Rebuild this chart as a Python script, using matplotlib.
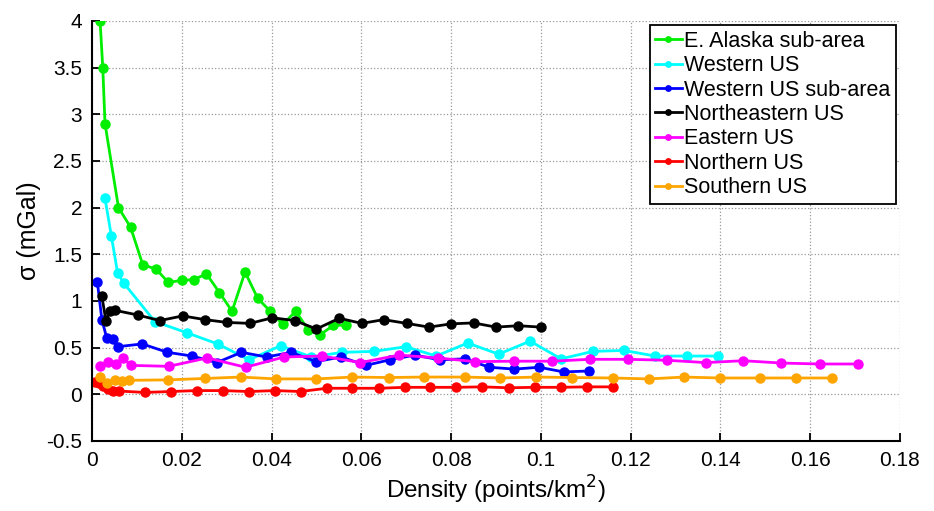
import numpy as np
import matplotlib
matplotlib.use('Agg')
import matplotlib.pyplot as plt

plt.rcParams['font.family'] = ['Liberation Sans', 'DejaVu Sans']

# E. Alaska sub-area
alaska_x = [0.0018, 0.0024, 0.0029, 0.0059, 0.0086, 0.0113, 0.0143, 0.0170, 0.0200, 0.0227,
            0.0255, 0.0284, 0.0312, 0.0341, 0.0369, 0.0397, 0.0425, 0.0454, 0.0482, 0.0509,
            0.0538, 0.0566]
alaska_y = [4.0, 3.5, 2.9, 2.0, 1.79, 1.39, 1.34, 1.2, 1.22, 1.23,
            1.29, 1.09, 0.89, 1.31, 1.03, 0.89, 0.75, 0.89, 0.69, 0.64,
            0.74, 0.74]

# Western US
west_x = [0.0029, 0.0043, 0.0057, 0.0071, 0.0140, 0.0211, 0.0280, 0.0350, 0.0420, 0.0489,
          0.0558, 0.0628, 0.0699, 0.0767, 0.0837, 0.0906, 0.0976, 0.1045, 0.1116, 0.1185,
          0.1255, 0.1326, 0.1395]
west_y = [2.10, 1.70, 1.30, 1.19, 0.78, 0.66, 0.54, 0.37, 0.52, 0.40,
          0.45, 0.46, 0.51, 0.41, 0.55, 0.43, 0.57, 0.38, 0.46, 0.47,
          0.41, 0.41, 0.41]

# Western US sub-area
wsub_x = [0.0012, 0.0022, 0.0033, 0.0046, 0.0057, 0.0112, 0.0168, 0.0223, 0.0278, 0.0333,
          0.0389, 0.0444, 0.0499, 0.0555, 0.0610, 0.0664, 0.0719, 0.0775, 0.0831, 0.0885,
          0.0941, 0.0996, 0.1051, 0.1107]
wsub_y = [1.20, 0.80, 0.60, 0.59, 0.51, 0.54, 0.45, 0.41, 0.34, 0.45,
          0.40, 0.45, 0.35, 0.40, 0.31, 0.37, 0.42, 0.37, 0.38, 0.29,
          0.27, 0.29, 0.24, 0.25]

# Northeastern US
ne_x = [0.0022, 0.0031, 0.0040, 0.0051, 0.0102, 0.0151, 0.0202, 0.0252, 0.0301, 0.0352,
        0.0402, 0.0452, 0.0500, 0.0551, 0.0601, 0.0650, 0.0701, 0.0751, 0.0800, 0.0850,
        0.0900, 0.0950, 0.1000]
ne_y = [1.05, 0.79, 0.89, 0.90, 0.85, 0.79, 0.84, 0.80, 0.77, 0.76,
        0.82, 0.79, 0.70, 0.815, 0.76, 0.80, 0.76, 0.72, 0.755, 0.765,
        0.72, 0.735, 0.72]

# Eastern US
east_x = [0.0018, 0.0036, 0.0053, 0.0070, 0.0086, 0.0171, 0.0257, 0.0342, 0.0428, 0.0513,
          0.0598, 0.0684, 0.0770, 0.0854, 0.0940, 0.1025, 0.1109, 0.1194, 0.1281, 0.1367,
          0.1451, 0.1536, 0.1621, 0.1707]
east_y = [0.30, 0.35, 0.33, 0.39, 0.31, 0.30, 0.39, 0.29, 0.40, 0.41,
          0.34, 0.42, 0.39, 0.35, 0.355, 0.355, 0.375, 0.375, 0.365, 0.34,
          0.36, 0.335, 0.325, 0.325]

# Northern US
north_x = [0.0007, 0.0015, 0.0025, 0.0036, 0.0047, 0.0060, 0.0118, 0.0175, 0.0233, 0.0291,
           0.0349, 0.0408, 0.0465, 0.0523, 0.0580, 0.0639, 0.0697, 0.0754, 0.0812, 0.0870,
           0.0928, 0.0986, 0.1044, 0.1102, 0.1160]
north_y = [0.13, 0.12, 0.09, 0.06, 0.04, 0.035, 0.02, 0.03, 0.04, 0.04,
           0.03, 0.04, 0.03, 0.065, 0.065, 0.065, 0.075, 0.075, 0.075, 0.08,
           0.07, 0.075, 0.075, 0.08, 0.08]

# Southern US
south_x = [0.0018, 0.0033, 0.0051, 0.0067, 0.0082, 0.0170, 0.0252, 0.0331, 0.0411, 0.0500,
           0.0580, 0.0661, 0.0740, 0.0831, 0.0910, 0.0990, 0.1069, 0.1160, 0.1240, 0.1319,
           0.1399, 0.1489, 0.1569, 0.1649]
south_y = [0.19, 0.12, 0.15, 0.14, 0.15, 0.155, 0.17, 0.185, 0.165, 0.165,
           0.185, 0.18, 0.185, 0.185, 0.175, 0.185, 0.18, 0.175, 0.165, 0.185,
           0.175, 0.175, 0.175, 0.175]

series = [
    (alaska_x, alaska_y, '#00ee00', 'E. Alaska sub-area'),
    (west_x, west_y, '#00ffff', 'Western US'),
    (wsub_x, wsub_y, '#0000ff', 'Western US sub-area'),
    (ne_x, ne_y, '#000000', 'Northeastern US'),
    (east_x, east_y, '#ff00ff', 'Eastern US'),
    (north_x, north_y, '#ff0000', 'Northern US'),
    (south_x, south_y, '#ffa500', 'Southern US'),
]

fig = plt.figure(figsize=(9.34, 5.11), dpi=100)
ax = fig.add_axes([0.0985, 0.137, 0.865, 0.822])

for xs, ys, c, lab in series:
    ax.plot(xs, ys, '-o', color=c, lw=2.0, ms=6.5, label=lab)

ax.set_xlim(0, 0.18)
ax.set_ylim(-0.5, 4)
ax.set_xticks(np.arange(0, 0.181, 0.02))
ax.set_xticklabels(['0', '0.02', '0.04', '0.06', '0.08', '0.1', '0.12', '0.14', '0.16', '0.18'])
ax.set_yticks(np.arange(-0.5, 4.01, 0.5))
ax.set_yticklabels(['-0.5', '0', '0.5', '1', '1.5', '2', '2.5', '3', '3.5', '4'])
ax.tick_params(direction='in', labelsize=15, length=6, width=1.3, pad=7)
ax.grid(True, color='#999999', linestyle=':', linewidth=0.9)
for s in ['top', 'right']:
    ax.spines[s].set_visible(False)
for s in ['left', 'bottom']:
    ax.spines[s].set_linewidth(1.5)

ax.set_xlabel('Density (points/km$^2$)', fontsize=17.5, labelpad=3)
ax.set_ylabel('σ (mGal)', fontsize=18, labelpad=4)

leg = ax.legend(loc='upper right', fontsize=15.5, markerscale=0.6, handlelength=1.25,
                handletextpad=0.1, borderpad=0.25, labelspacing=0.16, fancybox=False,
                framealpha=1, borderaxespad=0.2)
leg.get_frame().set_edgecolor('black')
leg.get_frame().set_linewidth(1.3)

fig.savefig('out.png', dpi=100)
